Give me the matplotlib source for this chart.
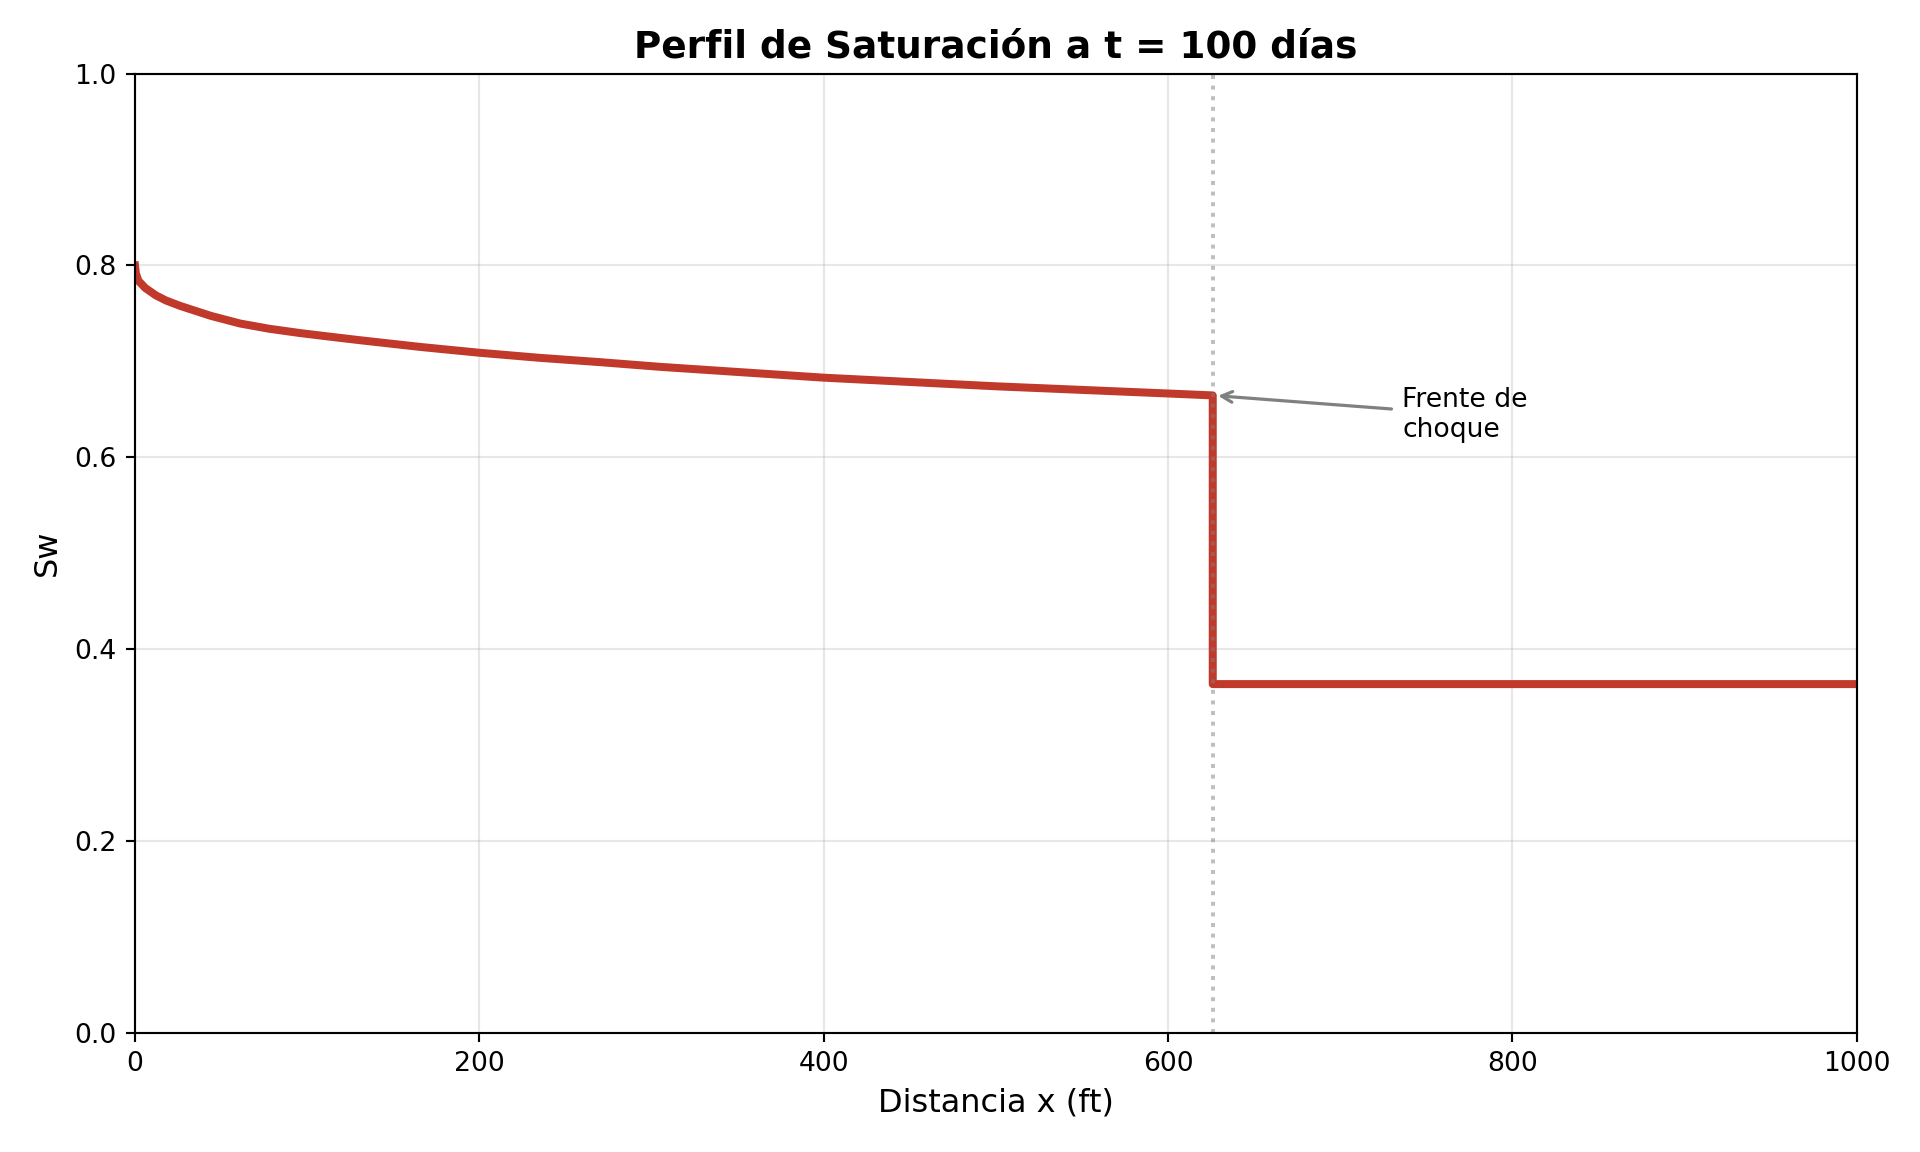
# imports
import matplotlib
matplotlib.use("Agg")
import matplotlib.pyplot as plt

# perfil de saturacion (x en ft, Sw)
x_perfil = [0, 0.5, 2, 6, 12, 18, 26, 44, 61, 78, 96, 113, 131, 166,
            200, 235, 270, 305, 400, 500, 600, 626, 626, 1000]
sw_perfil = [0.800, 0.792, 0.784, 0.7765, 0.769, 0.7635, 0.758, 0.7475,
             0.7395, 0.734, 0.7295, 0.7258, 0.722, 0.715, 0.709, 0.7037,
             0.6992, 0.6943, 0.683, 0.674, 0.6665, 0.6645, 0.3634, 0.3634]

# frente de choque
x_frente = 626
sw_frente = 0.6645

xticks = [0, 200, 400, 600, 800, 1000]
yticks = [0.0, 0.2, 0.4, 0.6, 0.8, 1.0]

fig, ax = plt.subplots(figsize=(10, 6), dpi=192)
fig.subplots_adjust(left=0.0703, right=0.967, top=0.936, bottom=0.1037)

ax.plot(x_perfil, sw_perfil, color="#c0392b", linewidth=3)
ax.axvline(x_frente, color="gray", linestyle=":", alpha=0.5, linewidth=1.5)

ax.annotate("Frente de\nchoque", xy=(x_frente, sw_frente),
            xytext=(x_frente + 110, sw_frente - 0.02),
            fontsize=10, ha="left", va="center",
            arrowprops=dict(arrowstyle="->", color="gray", lw=1.2))

ax.set_xlim(0, 1000)
ax.set_ylim(0, 1)
ax.set_xticks(xticks)
ax.set_yticks(yticks)
ax.grid(True, alpha=0.3)
ax.set_xlabel("Distancia x (ft)", fontsize=12)
ax.set_ylabel("Sw", fontsize=12)
ax.set_title("Perfil de Saturación a t = 100 días", fontsize=14, fontweight="bold")

plt.savefig("out.png", dpi=192)
